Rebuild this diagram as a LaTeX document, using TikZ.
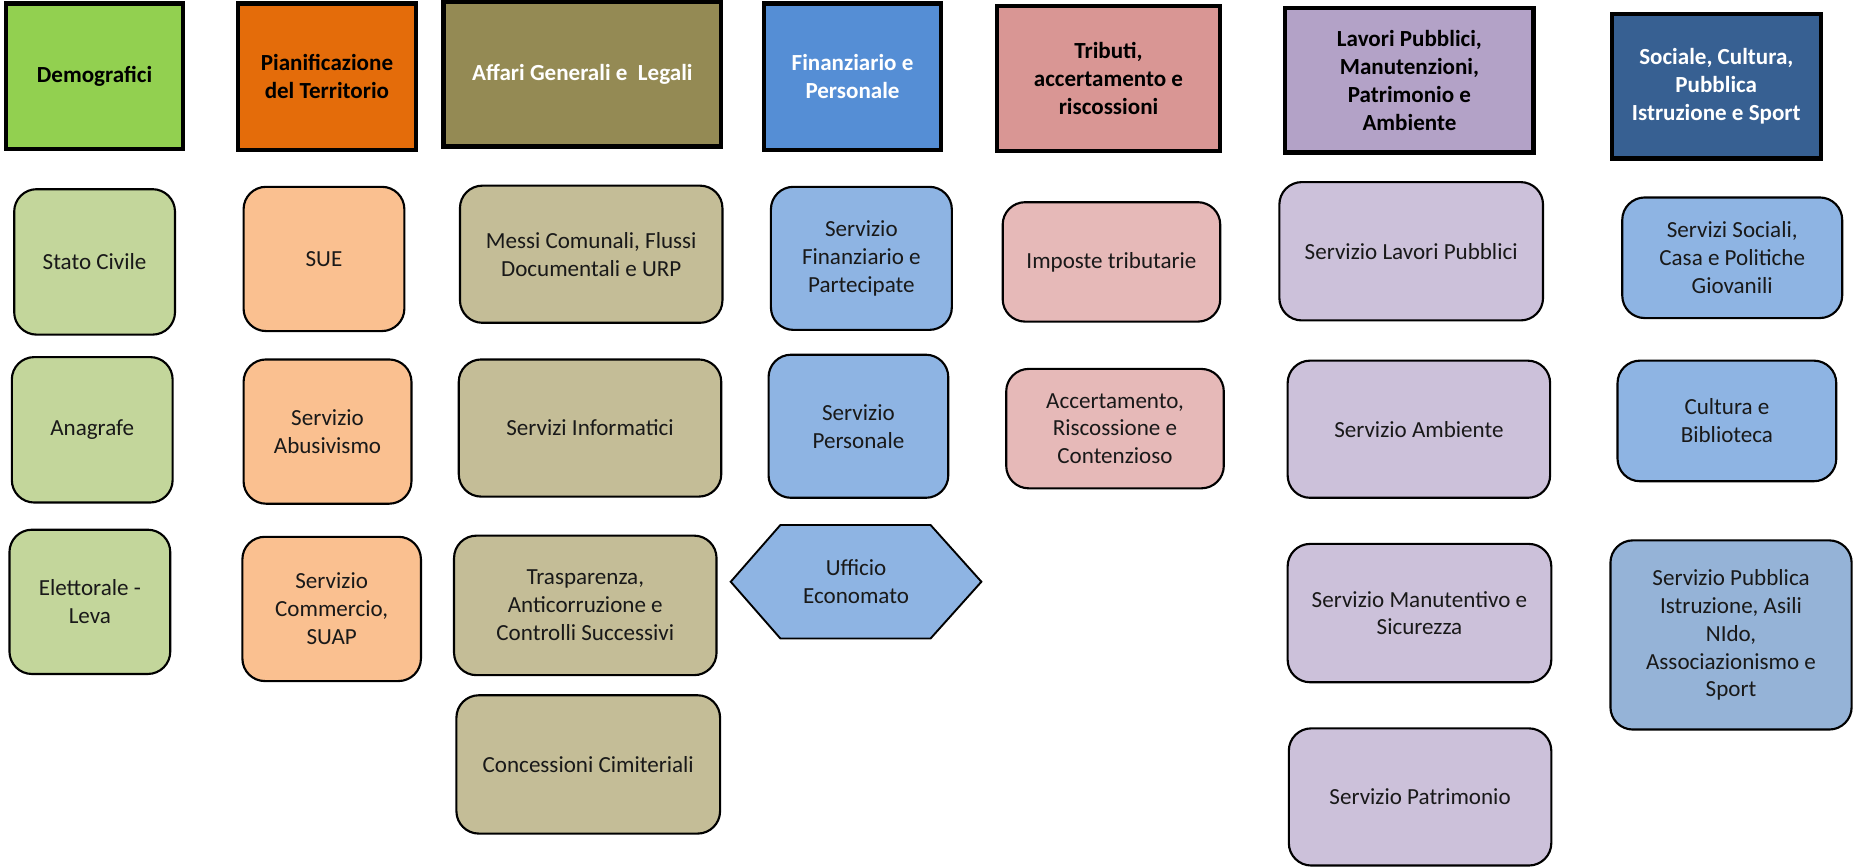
\documentclass[tikz,border=0pt]{standalone}
\usepackage{fontspec}
\setmainfont{Carlito}
\usetikzlibrary{backgrounds,calc}
\definecolor{hdGreen}{HTML}{92D050}
\definecolor{hdOrange}{HTML}{E46C0A}
\definecolor{hdOlive}{HTML}{948A54}
\definecolor{hdBlue}{HTML}{558ED5}
\definecolor{hdPink}{HTML}{D99694}
\definecolor{hdPurple}{HTML}{B3A2C7}
\definecolor{hdNavy}{HTML}{376092}
\definecolor{sbGreen}{HTML}{C3D69B}
\definecolor{sbOrange}{HTML}{FAC090}
\definecolor{sbOlive}{HTML}{C4BD97}
\definecolor{sbBlue}{HTML}{8EB4E3}
\definecolor{sbPink}{HTML}{E6B9B8}
\definecolor{sbPurple}{HTML}{CCC1DA}
\definecolor{sbSteel}{HTML}{95B3D7}
\begin{document}
\begin{tikzpicture}[x=1pt,y=1pt,
  every node/.style={font=\fontsize{19.5}{23.6}\selectfont, align=center, inner sep=0pt, outer sep=0pt, anchor=north west},
  hdbox/.style={draw=black, line width=3.6pt, font=\bfseries\fontsize{19.5}{23.6}\selectfont},
  sub/.style={draw=black, line width=1.8pt, rounded corners=19pt, text=black!90},
  hexlabel/.style={anchor=center, text=black!90}]
\useasboundingbox (0,0) rectangle (1568,-733.3);
\begin{scope}[on background layer]
\fill[white] (0,0) rectangle (1568,-733.3);
\end{scope}
% headers
\node[hdbox, fill=hdGreen, minimum width=150, minimum height=123] (dem) at (5,-3) {Demografici};
\node[hdbox, fill=hdOrange, minimum width=151, minimum height=124] (pia) at (201,-3) {Pianificazione\\del Territorio};
\node[hdbox, fill=hdOlive, text=white, minimum width=235, minimum height=122.5] (aff) at (375,-1.5) {Affari Generali e~ Legali};
\node[hdbox, fill=hdBlue, text=white, minimum width=150, minimum height=124] (fin) at (646,-3) {Finanziario e\\Personale};
\node[hdbox, fill=hdPink, minimum width=189, minimum height=123] (tri) at (843,-5) {Tributi,\\accertamento e\\riscossioni};
\node[hdbox, fill=hdPurple, minimum width=210, minimum height=122] (lav) at (1087,-7) {Lavori Pubblici,\\Manutenzioni,\\Patrimonio e\\Ambiente};
\node[hdbox, fill=hdNavy, text=white, minimum width=177, minimum height=122] (soc) at (1363,-12) {Sociale, Cultura,\\Pubblica\\Istruzione e Sport};
% Demografici
\node[sub, fill=sbGreen, minimum width=136, minimum height=123] (stato) at (12,-160) {Stato Civile};
\node[sub, fill=sbGreen, minimum width=136, minimum height=123] (anag) at (10,-302) {Anagrafe};
\node[sub, fill=sbGreen, minimum width=136, minimum height=122] (elet) at (8,-448) {Elettorale -\\Leva};
% Pianificazione
\node[sub, fill=sbOrange, minimum width=136, minimum height=122] (sue) at (206,-158) {SUE};
\node[sub, fill=sbOrange, minimum width=142, minimum height=122] (abus) at (206,-304) {Servizio\\Abusivismo};
\node[sub, fill=sbOrange, minimum width=151, minimum height=122] (comm) at (205,-454) {Servizio\\Commercio,\\SUAP};
% Affari generali
\node[sub, fill=sbOlive, minimum width=222, minimum height=116] (messi) at (389,-157) {Messi Comunali, Flussi\\Documentali e URP};
\node[sub, fill=sbOlive, minimum width=222, minimum height=116] (info) at (388,-304) {Servizi Informatici};
\node[sub, fill=sbOlive, minimum width=222, minimum height=118] (trasp) at (384,-453) {Trasparenza,\\Anticorruzione e\\Controlli Successivi};
\node[sub, fill=sbOlive, minimum width=223, minimum height=117] (conc) at (386,-588) {Concessioni Cimiteriali};
% Finanziario
\node[sub, fill=sbBlue, minimum width=153, minimum height=121] (sfin) at (652,-158) {Servizio\\Finanziario e\\Partecipate};
\node[sub, fill=sbBlue, minimum width=152, minimum height=121] (spers) at (650,-300) {Servizio\\Personale};
\node[hexlabel] (uff) at (724,-492) {Ufficio\\Economato};
\begin{scope}[on background layer]
\draw[fill=sbBlue, line width=1.6pt, line join=miter] ($(uff.center)+(-106,0)$) -- ++(42,48) -- ++(127,0) -- ++(43,-48) -- ++(-43,-48) -- ++(-127,0) -- cycle;
\end{scope}
% Tributi
\node[sub, fill=sbPink, minimum width=184, minimum height=101] (impo) at (848,-171) {Imposte tributarie};
\node[sub, fill=sbPink, minimum width=184, minimum height=101] (acc) at (851,-312) {Accertamento,\\Riscossione e\\Contenzioso};
% Lavori
\node[sub, fill=sbPurple, minimum width=223, minimum height=117] (slp) at (1082,-154) {Servizio Lavori Pubblici};
\node[sub, fill=sbPurple, minimum width=222, minimum height=116] (amb) at (1089,-305) {Servizio Ambiente};
\node[sub, fill=sbPurple, minimum width=223, minimum height=117] (man) at (1089,-460) {Servizio Manutentivo e\\Sicurezza};
\node[sub, fill=sbPurple, minimum width=222, minimum height=116] (pat) at (1090,-616) {Servizio Patrimonio};
% Sociale
\node[sub, fill=sbBlue, minimum width=186, minimum height=102] (ssoc) at (1372,-167) {Servizi Sociali,\\Casa e Politiche\\Giovanili};
\node[sub, fill=sbBlue, minimum width=185, minimum height=102] (cult) at (1368,-305) {Cultura e\\Biblioteca};
\node[sub, fill=sbSteel, minimum width=204, minimum height=160] (spi) at (1362,-457) {Servizio Pubblica\\Istruzione, Asili\\NIdo,\\Associazionismo e\\Sport};
\end{tikzpicture}
\end{document}
